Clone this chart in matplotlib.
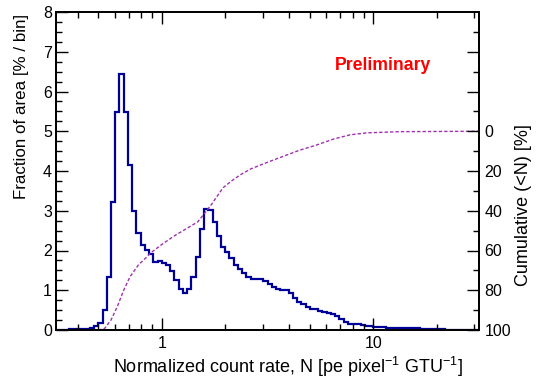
"""Count-rate distribution with its cumulative curve (ROOT-style log-x histogram)."""

import matplotlib

matplotlib.use("Agg")
import matplotlib.pyplot as plt
import numpy as np
from matplotlib.ticker import FixedFormatter, FixedLocator, NullFormatter

# 100 log-spaced bins, log10(N) from -0.5 to 1.5
LOG_LO, LOG_HI, N_BINS = -0.5, 1.5, 100

# fraction of area [% / bin], read bin by bin off the picture
FRACTION = [
    0.01, 0.01, 0.01, 0.02, 0.02, 0.02, 0.02, 0.03, 0.05, 0.10,
    0.18, 0.50, 1.34, 3.23, 5.49, 6.44, 5.48, 4.15, 3.00, 2.43,
    2.13, 2.01, 1.91, 1.70, 1.74, 1.68, 1.64, 1.49, 1.27, 1.02,
    0.92, 1.02, 1.34, 1.84, 2.55, 3.04, 3.03, 2.72, 2.36, 2.10,
    1.96, 1.80, 1.63, 1.53, 1.43, 1.33, 1.29, 1.29, 1.28, 1.24,
    1.15, 1.07, 1.02, 1.01, 1.01, 0.92, 0.81, 0.71, 0.65, 0.59,
    0.54, 0.52, 0.49, 0.45, 0.42, 0.39, 0.35, 0.27, 0.21, 0.15,
    0.14, 0.14, 0.12, 0.10, 0.09, 0.08, 0.07, 0.07, 0.06, 0.05,
    0.05, 0.04, 0.04, 0.04, 0.04, 0.04, 0.03, 0.03, 0.03, 0.03,
    0.03, 0.02, 0.01, 0.0, 0.0, 0.0, 0.0, 0.0, 0.0, 0.0,
]

# cumulative curve, drawn in left-axis units (5 == 0 % on the right axis)
CUM_LOGN = [
    -0.30, -0.27, -0.24, -0.21, -0.18, -0.15, -0.11, -0.07, -0.05, 0.00,
    0.06, 0.12, 0.17, 0.20, 0.23, 0.26, 0.29, 0.33, 0.37, 0.42,
    0.50, 0.58, 0.65, 0.73, 0.81, 0.89, 0.97, 1.13, 1.50,
]
CUM_Y = [
    0.00, 0.04, 0.25, 0.59, 1.00, 1.34, 1.64, 1.84, 1.95, 2.15,
    2.37, 2.56, 2.72, 2.92, 3.12, 3.35, 3.58, 3.75, 3.90, 4.05,
    4.22, 4.38, 4.52, 4.65, 4.80, 4.91, 4.96, 4.99, 5.00,
]

RIGHT_TICKS = [-40, -20, 0, 20, 40, 60, 80, 100]
RIGHT_LABELS = ["", "", "0", "20", "40", "60", "80", "100"]

HIST_COLOR = "#000099"
CUM_COLOR = "#a030b0"
FONT = "Liberation Sans"
TITLE_SIZE = 13


def style_ticks(ax, major, minor):
    ax.tick_params(which="major", direction="in", length=major, width=1.0)
    ax.tick_params(which="minor", direction="in", length=minor, width=1.0)


def main():
    plt.rcParams["font.family"] = FONT
    plt.rcParams["font.size"] = 11.5
    plt.rcParams["mathtext.fontset"] = "custom"
    plt.rcParams["mathtext.rm"] = FONT

    W, H = 538, 379
    fig = plt.figure(figsize=(W / 100, H / 100), dpi=100)
    x0, x1, y0, y1 = 56, 479, 12, 330
    ax = fig.add_axes([x0 / W, 1 - y1 / H, (x1 - x0) / W, (y1 - y0) / H])

    edges = 10 ** np.linspace(LOG_LO, LOG_HI, N_BINS + 1)
    ax.stairs(FRACTION, edges, color=HIST_COLOR, linewidth=1.6, baseline=None)
    ax.plot(10 ** np.array(CUM_LOGN), CUM_Y, color=CUM_COLOR,
            linewidth=1.0, linestyle=(0, (2.4, 1.5)))

    ax.set_xscale("log")
    ax.set_xlim(10 ** LOG_LO, 10 ** LOG_HI)
    ax.set_ylim(0, 8)
    ax.xaxis.set_major_locator(FixedLocator([1, 10]))
    ax.xaxis.set_major_formatter(FixedFormatter(["1", "10"]))
    minors = [m * d for d in (0.1, 1, 10) for m in range(2, 10)]
    ax.xaxis.set_minor_locator(FixedLocator(minors))
    ax.xaxis.set_minor_formatter(NullFormatter())
    ax.yaxis.set_major_locator(FixedLocator(range(9)))
    ax.yaxis.set_minor_locator(FixedLocator(np.arange(0, 8.01, 0.25)))
    style_ticks(ax, 8.5, 4.3)
    ax.tick_params(top=True, right=False, which="both")
    ax.tick_params(axis="x", which="major", pad=4)
    ax.tick_params(axis="y", which="major", pad=3)
    for s in ax.spines.values():
        s.set_linewidth(1.3)

    ax2 = ax.twinx()
    ax2.set_ylim(100, -60)
    ax2.yaxis.set_major_locator(FixedLocator(RIGHT_TICKS))
    ax2.yaxis.set_major_formatter(FixedFormatter(RIGHT_LABELS))
    ax2.yaxis.set_minor_locator(FixedLocator([10, 30, 50, 70, 90, -10, -30, -50]))
    style_ticks(ax2, 8.5, 4.3)
    ax2.tick_params(axis="y", which="major", pad=4)
    for s in ax2.spines.values():
        s.set_linewidth(1.3)

    ax.set_xlabel(r"Normalized count rate, N [pe pixel$^{\mathregular{-1}}$ GTU$^{\mathregular{-1}}$]",
                  ha="right", x=0.962, labelpad=3, fontsize=TITLE_SIZE)
    ax.set_ylabel("Fraction of area [% / bin]", ha="right", y=0.995, labelpad=10,
                  fontsize=12.2)
    fig.text(524 / W, 1 - 205 / H, "Cumulative (<N) [%]", rotation=90,
             ha="center", va="center", fontsize=TITLE_SIZE)
    fig.text(383 / W, 1 - 66 / H, "Preliminary", color="red",
             fontweight="bold", ha="center", va="center", fontsize=12.7)

    fig.savefig("out.png", dpi=100)


if __name__ == "__main__":
    main()
